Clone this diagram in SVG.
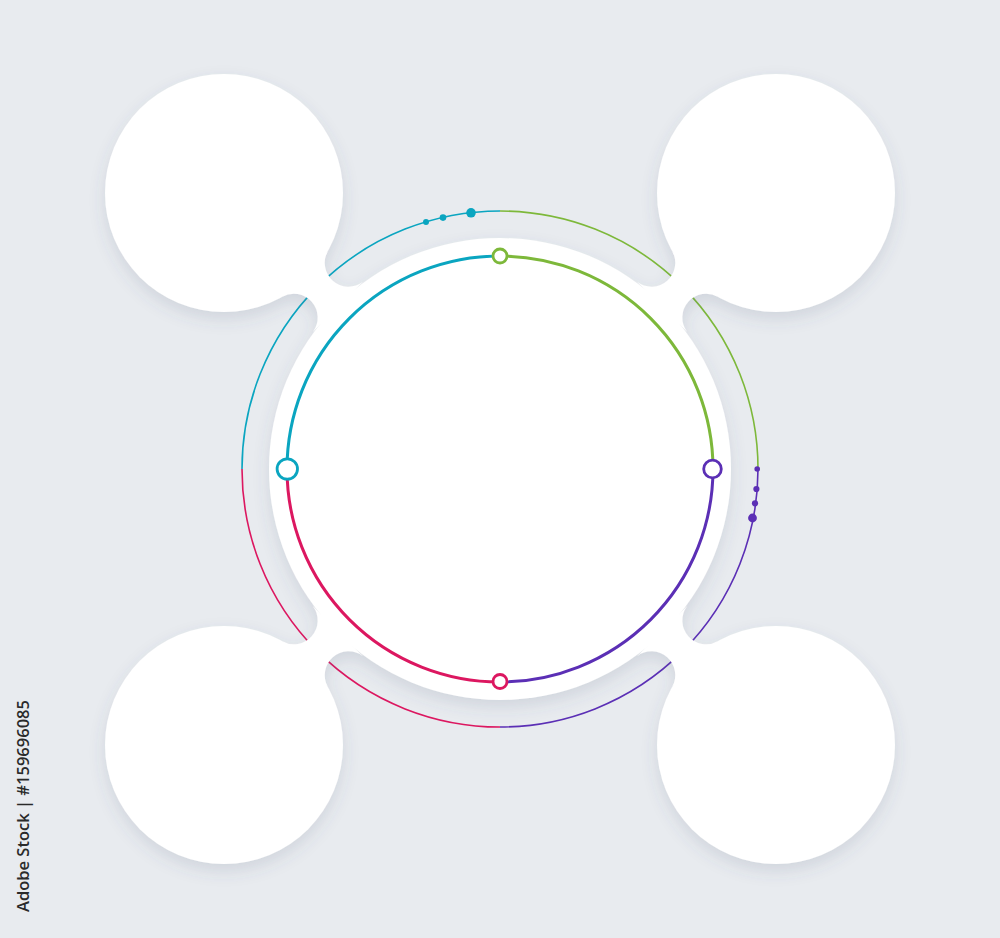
<svg xmlns="http://www.w3.org/2000/svg" width="1000" height="938" viewBox="0 0 1000 938">
  <style>
    .outer { fill: none; stroke-width: 1.6; }
    .inner { fill: none; stroke-width: 3; }
    .node { fill: #ffffff; stroke-width: 2.8; }
    .teal { stroke: #0aa5c0; }
    .green { stroke: #7db83a; }
    .purple { stroke: #5b2fb5; }
    .crimson { stroke: #dc1760; }
    .white { fill: #ffffff; }
    .label { font-family: "Open Sans", "Liberation Sans", sans-serif; font-size: 17px; font-weight: 600; fill: #2a2a2a; }
  </style>
  <defs>
    <filter id="shadow" x="-20%" y="-20%" width="140%" height="140%">
      <feGaussianBlur in="SourceAlpha" stdDeviation="8"/>
      <feOffset dx="0" dy="7" result="b"/>
      <feFlood flood-color="#4a5878" flood-opacity="0.15"/>
      <feComposite in2="b" operator="in"/>
      <feMerge>
        <feMergeNode/>
        <feMergeNode in="SourceGraphic"/>
      </feMerge>
    </filter>
    <path id="neck" d="M229.33,35.07 A23.8,23.8 0 0 1 275.77,32.22 L275.77,-32.22 A23.8,23.8 0 0 1 229.33,-35.07 Z"/>
  </defs>

  <rect x="0" y="0" width="1000" height="938" fill="#e8ebef"/>

  <!-- outer thin arcs (in gray pockets) -->
  <g id="outer-ring">
    <path class="outer teal" d="M242,469 A258,258 0 0 1 500,211"/>
    <path class="outer green" d="M500,211 A258,258 0 0 1 758,469"/>
    <path class="outer purple" d="M758,469 A258,258 0 0 1 500,727"/>
    <path class="outer crimson" d="M500,727 A258,258 0 0 1 242,469"/>
    <g fill="#0aa5c0">
      <circle cx="426" cy="222" r="3"/>
      <circle cx="443" cy="217.6" r="3.3"/>
      <circle cx="471" cy="212.8" r="4.8"/>
    </g>
    <g fill="#5b2fb5">
      <circle cx="757.2" cy="469" r="2.8"/>
      <circle cx="756.4" cy="489" r="3.1"/>
      <circle cx="755" cy="503.3" r="3.1"/>
      <circle cx="752.5" cy="518" r="4.4"/>
    </g>
  </g>

  <!-- white shape: centre disc, corner circles and necks -->
  <g id="white-shape" class="white" filter="url(#shadow)">
    <g id="node-center"><circle cx="500" cy="469" r="231"/></g>
    <g id="node-top-left"><circle cx="224" cy="193" r="119"/></g>
    <g id="node-top-right"><circle cx="776" cy="193" r="119"/></g>
    <g id="node-bottom-left"><circle cx="224" cy="745" r="119"/></g>
    <g id="node-bottom-right"><circle cx="776" cy="745" r="119"/></g>
    <g id="connectors">
      <use href="#neck" transform="translate(500,469) rotate(-135)"/>
      <use href="#neck" transform="translate(500,469) rotate(-45)"/>
      <use href="#neck" transform="translate(500,469) rotate(45)"/>
      <use href="#neck" transform="translate(500,469) rotate(135)"/>
    </g>
  </g>

  <!-- inner coloured ring -->
  <g id="inner-ring">
    <path class="inner teal" d="M287,469 A213,213 0 0 1 500,256"/>
    <path class="inner green" d="M500,256 A213,213 0 0 1 713,469"/>
    <path class="inner purple" d="M713,469 A213,213 0 0 1 500,682"/>
    <path class="inner crimson" d="M500,682 A213,213 0 0 1 287,469"/>
  </g>
  <g id="ring-nodes">
    <circle class="node green" cx="500" cy="256" r="7"/>
    <circle class="node purple" cx="712.5" cy="469" r="8.8"/>
    <circle class="node crimson" cx="500" cy="681.5" r="7"/>
    <circle class="node teal" cx="287.3" cy="469" r="10.2"/>
  </g>

  <text class="label" transform="translate(29,912) rotate(-90)" textLength="212" lengthAdjust="spacingAndGlyphs">Adobe Stock | #159696085</text>
</svg>
